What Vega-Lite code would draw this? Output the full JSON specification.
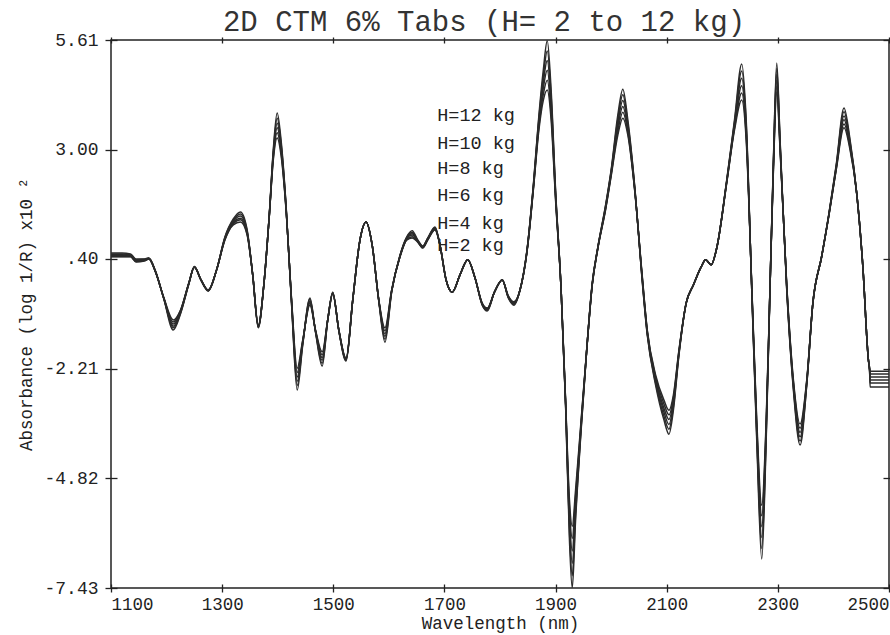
{
  "$schema": "https://vega.github.io/schema/vega-lite/v6.json",
  "width": 778,
  "height": 548,
  "autosize": {"type": "none"},
  "padding": {"left": 111, "top": 40, "right": 1, "bottom": 47},
  "background": "white",
  "title": {"text": "2D CTM 6% Tabs (H= 2 to 12 kg)", "fontSize": 29, "font": "Liberation Mono", "fontWeight": "normal", "color": "#333333", "offset": -6, "dx": -16},
  "config": {
    "view": {"stroke": "#222222", "strokeWidth": 1.5},
    "axis": {"domain": false, "grid": false, "tickColor": "#222222", "tickWidth": 1.3, "labelColor": "#222222", "titleColor": "#222222", "labelFont": "Liberation Mono", "titleFont": "Liberation Mono", "titleFontWeight": "normal"}
  },
  "layer": [
    {
      "data": {"values": [
        {"wl":1100,"h2":0.45,"h4":0.46,"h6":0.48,"h8":0.50,"h10":0.52,"h12":0.54},
        {"wl":1120,"h2":0.45,"h4":0.46,"h6":0.48,"h8":0.50,"h10":0.52,"h12":0.54},
        {"wl":1135,"h2":0.45,"h4":0.46,"h6":0.47,"h8":0.49,"h10":0.50,"h12":0.52},
        {"wl":1145,"h2":0.33,"h4":0.34,"h6":0.36,"h8":0.37,"h10":0.38,"h12":0.40},
        {"wl":1160,"h2":0.35,"h4":0.36,"h6":0.37,"h8":0.38,"h10":0.39,"h12":0.40},
        {"wl":1168,"h2":0.40,"h4":0.40,"h6":0.41,"h8":0.41,"h10":0.42,"h12":0.42},
        {"wl":1180,"h2":0.09,"h4":0.09,"h6":0.10,"h8":0.10,"h10":0.11,"h12":0.11},
        {"wl":1195,"h2":-0.52,"h4":-0.53,"h6":-0.53,"h8":-0.54,"h10":-0.54,"h12":-0.55},
        {"wl":1212,"h2":-1.05,"h4":-1.10,"h6":-1.15,"h8":-1.20,"h10":-1.24,"h12":-1.29},
        {"wl":1225,"h2":-0.82,"h4":-0.83,"h6":-0.85,"h8":-0.87,"h10":-0.89,"h12":-0.91},
        {"wl":1240,"h2":-0.17,"h4":-0.18,"h6":-0.18,"h8":-0.19,"h10":-0.19,"h12":-0.20},
        {"wl":1250,"h2":0.20,"h4":0.20,"h6":0.21,"h8":0.21,"h10":0.22,"h12":0.22},
        {"wl":1262,"h2":-0.09,"h4":-0.10,"h6":-0.10,"h8":-0.10,"h10":-0.11,"h12":-0.11},
        {"wl":1275,"h2":-0.34,"h4":-0.34,"h6":-0.35,"h8":-0.35,"h10":-0.36,"h12":-0.36},
        {"wl":1290,"h2":0.14,"h4":0.14,"h6":0.14,"h8":0.14,"h10":0.14,"h12":0.14},
        {"wl":1305,"h2":0.85,"h4":0.86,"h6":0.88,"h8":0.89,"h10":0.91,"h12":0.92},
        {"wl":1320,"h2":1.21,"h4":1.24,"h6":1.26,"h8":1.29,"h10":1.32,"h12":1.35},
        {"wl":1333,"h2":1.28,"h4":1.33,"h6":1.37,"h8":1.42,"h10":1.47,"h12":1.52},
        {"wl":1345,"h2":0.97,"h4":0.99,"h6":1.02,"h8":1.04,"h10":1.06,"h12":1.09},
        {"wl":1355,"h2":0.02,"h4":0.02,"h6":0.02,"h8":0.02,"h10":0.02,"h12":0.02},
        {"wl":1365,"h2":-1.17,"h4":-1.19,"h6":-1.20,"h8":-1.21,"h10":-1.23,"h12":-1.24},
        {"wl":1375,"h2":-0.22,"h4":-0.22,"h6":-0.22,"h8":-0.22,"h10":-0.22,"h12":-0.22},
        {"wl":1385,"h2":1.45,"h4":1.45,"h6":1.46,"h8":1.47,"h10":1.48,"h12":1.49},
        {"wl":1392,"h2":2.75,"h4":2.80,"h6":2.85,"h8":2.90,"h10":2.94,"h12":2.99},
        {"wl":1399,"h2":3.28,"h4":3.40,"h6":3.52,"h8":3.63,"h10":3.75,"h12":3.87},
        {"wl":1406,"h2":2.87,"h4":2.94,"h6":3.02,"h8":3.09,"h10":3.16,"h12":3.23},
        {"wl":1415,"h2":1.57,"h4":1.59,"h6":1.61,"h8":1.64,"h10":1.66,"h12":1.68},
        {"wl":1425,"h2":-0.58,"h4":-0.60,"h6":-0.62,"h8":-0.65,"h10":-0.67,"h12":-0.70},
        {"wl":1435,"h2":-2.20,"h4":-2.30,"h6":-2.41,"h8":-2.51,"h10":-2.61,"h12":-2.72},
        {"wl":1445,"h2":-1.53,"h4":-1.55,"h6":-1.58,"h8":-1.60,"h10":-1.62,"h12":-1.65},
        {"wl":1458,"h2":-0.70,"h4":-0.66,"h6":-0.63,"h8":-0.60,"h10":-0.56,"h12":-0.53},
        {"wl":1468,"h2":-1.29,"h4":-1.30,"h6":-1.31,"h8":-1.32,"h10":-1.33,"h12":-1.34},
        {"wl":1480,"h2":-1.81,"h4":-1.88,"h6":-1.95,"h8":-2.01,"h10":-2.08,"h12":-2.15},
        {"wl":1490,"h2":-1.05,"h4":-1.05,"h6":-1.05,"h8":-1.05,"h10":-1.05,"h12":-1.05},
        {"wl":1499,"h2":-0.43,"h4":-0.42,"h6":-0.42,"h8":-0.41,"h10":-0.40,"h12":-0.39},
        {"wl":1510,"h2":-1.29,"h4":-1.29,"h6":-1.30,"h8":-1.30,"h10":-1.31,"h12":-1.31},
        {"wl":1523,"h2":-1.96,"h4":-1.97,"h6":-1.99,"h8":-2.00,"h10":-2.01,"h12":-2.03},
        {"wl":1535,"h2":-0.58,"h4":-0.58,"h6":-0.58,"h8":-0.58,"h10":-0.58,"h12":-0.58},
        {"wl":1548,"h2":0.85,"h4":0.85,"h6":0.85,"h8":0.85,"h10":0.85,"h12":0.85},
        {"wl":1559,"h2":1.28,"h4":1.28,"h6":1.28,"h8":1.28,"h10":1.28,"h12":1.28},
        {"wl":1570,"h2":0.73,"h4":0.73,"h6":0.73,"h8":0.73,"h10":0.73,"h12":0.73},
        {"wl":1582,"h2":-0.58,"h4":-0.59,"h6":-0.59,"h8":-0.60,"h10":-0.61,"h12":-0.62},
        {"wl":1593,"h2":-1.24,"h4":-1.31,"h6":-1.38,"h8":-1.44,"h10":-1.51,"h12":-1.58},
        {"wl":1605,"h2":-0.34,"h4":-0.35,"h6":-0.36,"h8":-0.37,"h10":-0.38,"h12":-0.39},
        {"wl":1620,"h2":0.45,"h4":0.45,"h6":0.46,"h8":0.47,"h10":0.48,"h12":0.49},
        {"wl":1632,"h2":0.85,"h4":0.86,"h6":0.88,"h8":0.89,"h10":0.91,"h12":0.92},
        {"wl":1642,"h2":0.90,"h4":0.93,"h6":0.97,"h8":1.00,"h10":1.03,"h12":1.07},
        {"wl":1652,"h2":0.80,"h4":0.81,"h6":0.82,"h8":0.83,"h10":0.84,"h12":0.85},
        {"wl":1661,"h2":0.66,"h4":0.67,"h6":0.68,"h8":0.69,"h10":0.70,"h12":0.71},
        {"wl":1670,"h2":0.85,"h4":0.86,"h6":0.87,"h8":0.88,"h10":0.89,"h12":0.90},
        {"wl":1683,"h2":1.09,"h4":1.10,"h6":1.12,"h8":1.13,"h10":1.15,"h12":1.16},
        {"wl":1692,"h2":0.73,"h4":0.73,"h6":0.73,"h8":0.73,"h10":0.73,"h12":0.73},
        {"wl":1703,"h2":-0.10,"h4":-0.10,"h6":-0.10,"h8":-0.10,"h10":-0.10,"h12":-0.10},
        {"wl":1714,"h2":-0.39,"h4":-0.39,"h6":-0.39,"h8":-0.39,"h10":-0.39,"h12":-0.39},
        {"wl":1728,"h2":0.02,"h4":0.02,"h6":0.02,"h8":0.02,"h10":0.02,"h12":0.02},
        {"wl":1742,"h2":0.38,"h4":0.38,"h6":0.38,"h8":0.38,"h10":0.38,"h12":0.38},
        {"wl":1755,"h2":-0.05,"h4":-0.05,"h6":-0.05,"h8":-0.05,"h10":-0.05,"h12":-0.05},
        {"wl":1768,"h2":-0.65,"h4":-0.66,"h6":-0.67,"h8":-0.68,"h10":-0.69,"h12":-0.70},
        {"wl":1777,"h2":-0.77,"h4":-0.78,"h6":-0.80,"h8":-0.81,"h10":-0.82,"h12":-0.84},
        {"wl":1790,"h2":-0.39,"h4":-0.39,"h6":-0.39,"h8":-0.39,"h10":-0.39,"h12":-0.39},
        {"wl":1804,"h2":-0.10,"h4":-0.10,"h6":-0.10,"h8":-0.10,"h10":-0.10,"h12":-0.10},
        {"wl":1815,"h2":-0.48,"h4":-0.49,"h6":-0.50,"h8":-0.51,"h10":-0.52,"h12":-0.53},
        {"wl":1825,"h2":-0.62,"h4":-0.64,"h6":-0.65,"h8":-0.67,"h10":-0.68,"h12":-0.70},
        {"wl":1836,"h2":-0.34,"h4":-0.34,"h6":-0.34,"h8":-0.34,"h10":-0.34,"h12":-0.34},
        {"wl":1849,"h2":0.61,"h4":0.62,"h6":0.63,"h8":0.64,"h10":0.65,"h12":0.66},
        {"wl":1860,"h2":2.04,"h4":2.06,"h6":2.09,"h8":2.11,"h10":2.14,"h12":2.16},
        {"wl":1870,"h2":3.47,"h4":3.54,"h6":3.61,"h8":3.68,"h10":3.75,"h12":3.82},
        {"wl":1878,"h2":4.18,"h4":4.32,"h6":4.47,"h8":4.61,"h10":4.75,"h12":4.90},
        {"wl":1885,"h2":4.42,"h4":4.65,"h6":4.89,"h8":5.12,"h10":5.35,"h12":5.59},
        {"wl":1892,"h2":3.71,"h4":3.85,"h6":3.99,"h8":4.13,"h10":4.28,"h12":4.42},
        {"wl":1900,"h2":1.80,"h4":1.85,"h6":1.90,"h8":1.95,"h10":1.99,"h12":2.04},
        {"wl":1910,"h2":-0.34,"h4":-0.34,"h6":-0.34,"h8":-0.34,"h10":-0.34,"h12":-0.34},
        {"wl":1918,"h2":-2.96,"h4":-2.98,"h6":-3.00,"h8":-3.03,"h10":-3.05,"h12":-3.08},
        {"wl":1925,"h2":-5.34,"h4":-5.53,"h6":-5.72,"h8":-5.91,"h10":-6.10,"h12":-6.29},
        {"wl":1930,"h2":-5.96,"h4":-6.25,"h6":-6.55,"h8":-6.84,"h10":-7.14,"h12":-7.43},
        {"wl":1936,"h2":-5.10,"h4":-5.24,"h6":-5.38,"h8":-5.53,"h10":-5.67,"h12":-5.81},
        {"wl":1946,"h2":-3.43,"h4":-3.48,"h6":-3.53,"h8":-3.58,"h10":-3.62,"h12":-3.67},
        {"wl":1956,"h2":-1.77,"h4":-1.77,"h6":-1.77,"h8":-1.77,"h10":-1.77,"h12":-1.77},
        {"wl":1966,"h2":-0.22,"h4":-0.21,"h6":-0.21,"h8":-0.20,"h10":-0.18,"h12":-0.17},
        {"wl":1976,"h2":0.64,"h4":0.65,"h6":0.66,"h8":0.66,"h10":0.67,"h12":0.68},
        {"wl":1990,"h2":1.57,"h4":1.59,"h6":1.61,"h8":1.64,"h10":1.66,"h12":1.68},
        {"wl":2000,"h2":2.37,"h4":2.40,"h6":2.43,"h8":2.46,"h10":2.49,"h12":2.52},
        {"wl":2012,"h2":3.35,"h4":3.44,"h6":3.54,"h8":3.63,"h10":3.73,"h12":3.82},
        {"wl":2021,"h2":3.75,"h4":3.89,"h6":4.03,"h8":4.17,"h10":4.31,"h12":4.44},
        {"wl":2030,"h2":3.35,"h4":3.42,"h6":3.49,"h8":3.56,"h10":3.63,"h12":3.71},
        {"wl":2043,"h2":1.95,"h4":1.96,"h6":1.98,"h8":2.00,"h10":2.02,"h12":2.04},
        {"wl":2055,"h2":0.14,"h4":0.12,"h6":0.10,"h8":0.07,"h10":0.04,"h12":0.02},
        {"wl":2065,"h2":-1.29,"h4":-1.31,"h6":-1.34,"h8":-1.36,"h10":-1.39,"h12":-1.41},
        {"wl":2080,"h2":-2.36,"h4":-2.41,"h6":-2.46,"h8":-2.50,"h10":-2.55,"h12":-2.60},
        {"wl":2095,"h2":-2.96,"h4":-3.05,"h6":-3.15,"h8":-3.24,"h10":-3.34,"h12":-3.43},
        {"wl":2104,"h2":-3.20,"h4":-3.31,"h6":-3.42,"h8":-3.54,"h10":-3.65,"h12":-3.77},
        {"wl":2112,"h2":-2.84,"h4":-2.91,"h6":-2.98,"h8":-3.05,"h10":-3.12,"h12":-3.20},
        {"wl":2122,"h2":-1.77,"h4":-1.79,"h6":-1.82,"h8":-1.84,"h10":-1.86,"h12":-1.89},
        {"wl":2135,"h2":-0.65,"h4":-0.65,"h6":-0.65,"h8":-0.65,"h10":-0.65,"h12":-0.65},
        {"wl":2148,"h2":-0.22,"h4":-0.22,"h6":-0.22,"h8":-0.22,"h10":-0.22,"h12":-0.22},
        {"wl":2162,"h2":0.21,"h4":0.21,"h6":0.21,"h8":0.21,"h10":0.21,"h12":0.21},
        {"wl":2170,"h2":0.38,"h4":0.38,"h6":0.38,"h8":0.38,"h10":0.38,"h12":0.38},
        {"wl":2180,"h2":0.26,"h4":0.26,"h6":0.26,"h8":0.26,"h10":0.26,"h12":0.26},
        {"wl":2190,"h2":0.66,"h4":0.66,"h6":0.66,"h8":0.66,"h10":0.66,"h12":0.66},
        {"wl":2208,"h2":2.21,"h4":2.22,"h6":2.24,"h8":2.25,"h10":2.26,"h12":2.28},
        {"wl":2222,"h2":3.47,"h4":3.52,"h6":3.56,"h8":3.61,"h10":3.66,"h12":3.71},
        {"wl":2235,"h2":4.18,"h4":4.35,"h6":4.52,"h8":4.70,"h10":4.87,"h12":5.04},
        {"wl":2243,"h2":3.23,"h4":3.33,"h6":3.42,"h8":3.52,"h10":3.61,"h12":3.71},
        {"wl":2253,"h2":-0.22,"h4":-0.24,"h6":-0.26,"h8":-0.29,"h10":-0.32,"h12":-0.34},
        {"wl":2262,"h2":-3.43,"h4":-3.53,"h6":-3.62,"h8":-3.72,"h10":-3.81,"h12":-3.91},
        {"wl":2271,"h2":-5.46,"h4":-5.71,"h6":-5.97,"h8":-6.23,"h10":-6.49,"h12":-6.74},
        {"wl":2279,"h2":-3.43,"h4":-3.53,"h6":-3.62,"h8":-3.72,"h10":-3.81,"h12":-3.91},
        {"wl":2286,"h2":-0.22,"h4":-0.22,"h6":-0.22,"h8":-0.22,"h10":-0.22,"h12":-0.22},
        {"wl":2292,"h2":2.52,"h4":2.56,"h6":2.61,"h8":2.66,"h10":2.71,"h12":2.75},
        {"wl":2298,"h2":4.37,"h4":4.51,"h6":4.65,"h8":4.79,"h10":4.93,"h12":5.06},
        {"wl":2304,"h2":2.99,"h4":3.04,"h6":3.09,"h8":3.13,"h10":3.18,"h12":3.23},
        {"wl":2316,"h2":-0.22,"h4":-0.24,"h6":-0.26,"h8":-0.29,"h10":-0.32,"h12":-0.34},
        {"wl":2328,"h2":-2.48,"h4":-2.53,"h6":-2.58,"h8":-2.62,"h10":-2.67,"h12":-2.72},
        {"wl":2340,"h2":-3.53,"h4":-3.63,"h6":-3.73,"h8":-3.83,"h10":-3.93,"h12":-4.03},
        {"wl":2352,"h2":-2.48,"h4":-2.50,"h6":-2.53,"h8":-2.55,"h10":-2.58,"h12":-2.60},
        {"wl":2363,"h2":-0.65,"h4":-0.65,"h6":-0.65,"h8":-0.65,"h10":-0.65,"h12":-0.65},
        {"wl":2379,"h2":0.47,"h4":0.47,"h6":0.47,"h8":0.47,"h10":0.47,"h12":0.47},
        {"wl":2392,"h2":1.45,"h4":1.45,"h6":1.46,"h8":1.47,"h10":1.48,"h12":1.49},
        {"wl":2405,"h2":2.52,"h4":2.54,"h6":2.56,"h8":2.59,"h10":2.61,"h12":2.64},
        {"wl":2419,"h2":3.52,"h4":3.61,"h6":3.71,"h8":3.80,"h10":3.90,"h12":3.99},
        {"wl":2430,"h2":2.99,"h4":3.04,"h6":3.09,"h8":3.13,"h10":3.18,"h12":3.23},
        {"wl":2442,"h2":1.95,"h4":1.95,"h6":1.95,"h8":1.95,"h10":1.95,"h12":1.95},
        {"wl":2453,"h2":0.21,"h4":0.21,"h6":0.21,"h8":0.21,"h10":0.21,"h12":0.21},
        {"wl":2463,"h2":-2.01,"h4":-2.01,"h6":-2.01,"h8":-2.01,"h10":-2.01,"h12":-2.01},
        {"wl":2465,"h2":-2.22,"h4":-2.22,"h6":-2.22,"h8":-2.22,"h10":-2.22,"h12":-2.22},
        {"wl":2466,"h2":-2.27,"h4":-2.34,"h6":-2.41,"h8":-2.48,"h10":-2.55,"h12":-2.65},
        {"wl":2500,"h2":-2.27,"h4":-2.34,"h6":-2.41,"h8":-2.48,"h10":-2.55,"h12":-2.65}
      ]},
      "transform": [{"fold": ["h2", "h4", "h6", "h8", "h10", "h12"], "as": ["series", "absorbance"]}],
      "mark": {"type": "line", "interpolate": "monotone", "color": "#2b2b2b", "strokeWidth": 1.5, "clip": true},
      "encoding": {
        "x": {"field": "wl", "type": "quantitative",
          "scale": {"domain": [1100, 2500], "nice": false, "zero": false},
          "axis": {"orient": "bottom", "values": [1100, 1300, 1500, 1700, 1900, 2100, 2300, 2500], "format": "d", "labelFlush": true, "labelOverlap": false, "offset": -4, "tickSize": 8, "labelPadding": 3, "labelFontSize": 17.5, "title": "Wavelength (nm)", "titleFontSize": 17.5, "titlePadding": 2}},
        "y": {"field": "absorbance", "type": "quantitative",
          "scale": {"domain": [-7.43, 5.61], "nice": false, "zero": false},
          "axis": {"orient": "left", "values": [-7.43, -4.82, -2.21, 0.4, 3.0, 5.61], "labelExpr": "abs(datum.value - 0.4) < 0.001 ? '.40' : replace(format(datum.value, '.2f'), '−', '-')", "offset": -6, "tickSize": 12, "labelPadding": 7, "labelFontSize": 18, "labelOverlap": false, "title": "Absorbance (log 1/R) x10 ²", "titleFontSize": 17.5, "titlePadding": 8}},
        "detail": {"field": "series", "type": "nominal"}
      }
    },
    {
      "data": {"values": [
        {"wl": 1687, "ab": 3.83, "label": "H=12 kg"},
        {"wl": 1687, "ab": 3.16, "label": "H=10 kg"},
        {"wl": 1687, "ab": 2.56, "label": "H=8 kg"},
        {"wl": 1687, "ab": 1.92, "label": "H=6 kg"},
        {"wl": 1687, "ab": 1.25, "label": "H=4 kg"},
        {"wl": 1687, "ab": 0.73, "label": "H=2 kg"}
      ]},
      "mark": {"type": "text", "align": "left", "baseline": "middle", "font": "Liberation Mono", "fontSize": 18.5, "color": "#222222"},
      "encoding": {
        "x": {"field": "wl", "type": "quantitative",
          "scale": {"domain": [1100, 2500], "nice": false, "zero": false},
          "axis": {"orient": "top", "values": [1100, 1300, 1500, 1700, 1900, 2100, 2300, 2500], "labels": false, "title": null, "offset": -3, "tickSize": 6}},
        "y": {"field": "ab", "type": "quantitative",
          "scale": {"domain": [-7.43, 5.61], "nice": false, "zero": false},
          "axis": {"orient": "right", "values": [-7.43, -4.82, -2.21, 0.4, 3.0, 5.61], "labels": false, "title": null, "offset": -6, "tickSize": 12}},
        "text": {"field": "label", "type": "nominal"}
      }
    }
  ],
  "resolve": {"scale": {"x": "independent", "y": "independent"}}
}
